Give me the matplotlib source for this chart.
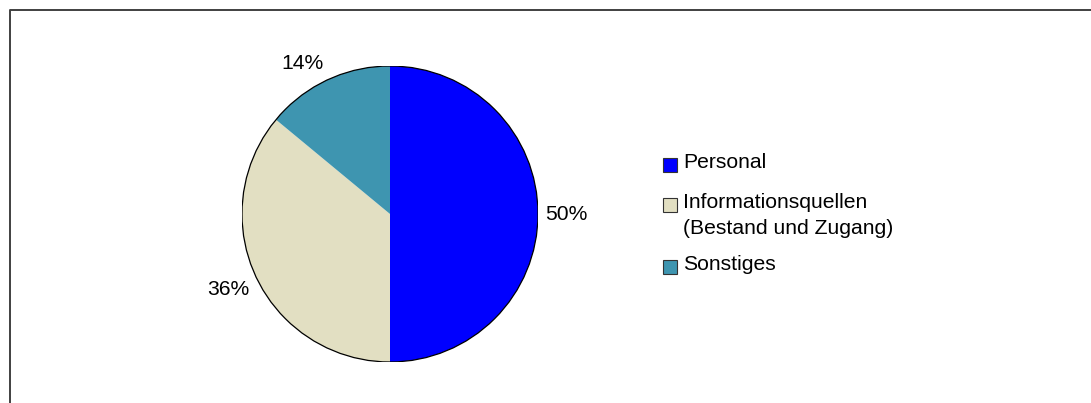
import math

import matplotlib

matplotlib.use("Agg")
import matplotlib.pyplot as plt
from matplotlib.lines import Line2D
from matplotlib.patches import Circle, Rectangle

categories = ["Personal", "Informationsquellen\n(Bestand und Zugang)", "Sonstiges"]
shares = [50, 36, 14]
pct_labels = ["50%", "36%", "14%"]

colors = ["#0000FF", "#E2DFC2", "#3E95B0"]

W, H = 1091, 403
plt.rcParams["font.family"] = ["Liberation Sans", "DejaVu Sans"]
FS = 15.2

fig = plt.figure(figsize=(W / 100, H / 100), dpi=100)


def px(x, y):
    """Pixel coords (origin top-left) -> figure fraction."""
    return x / W, 1 - y / H


# pie axes: centre (390, 214), radius 148 px
cx, cy, r = 390, 214, 148
ax = fig.add_axes([(cx - r) / W, (H - cy - r) / H, 2 * r / W, 2 * r / H])
wedges, _ = ax.pie(shares, colors=colors, startangle=90, counterclock=False,
                   radius=1, wedgeprops=dict(linewidth=0))
ax.add_patch(Circle((0, 0), 1, fill=False, edgecolor="black", linewidth=0.9))
ax.set_xlim(-1, 1)
ax.set_ylim(-1, 1)
ax.set_aspect("equal")
ax.axis("off")

# percentage labels: anchored by the corner nearest the pie
for w, txt in zip(wedges, pct_labels):
    mid = math.radians((w.theta1 + w.theta2) / 2)
    x, y = 1.05 * math.cos(mid), 1.05 * math.sin(mid)
    va = "bottom" if y > 0.3 else ("top" if y < -0.3 else "center")
    ax.text(x, y, txt, ha="left" if x > 0 else "right", va=va,
            fontsize=FS, color="black", clip_on=False)

# legend drawn by hand
leg_x, text_x, sq = 663, 683, 14
item_y = [163, 203, 265]
line_step = 26
for lab, col, y0 in zip(categories, colors, item_y):
    fx, fy = px(leg_x, y0 + 2 + sq / 2)
    fig.add_artist(Rectangle((fx, fy), sq / W, sq / H, facecolor=col,
                             edgecolor="#333333", linewidth=0.8,
                             transform=fig.transFigure))
    for k, line in enumerate(lab.split("\n")):
        tx, ty = px(text_x, y0 + k * line_step)
        fig.text(tx, ty, line, ha="left", va="center", fontsize=FS)

# frame (only top and left edges fall inside the canvas)
bx0, by0 = px(10, H + 5)
bx1, by1 = px(10, 10)
bx2, by2 = px(W + 5, 10)
fig.add_artist(Line2D([bx0, bx1, bx2], [by0, by1, by2], color="#404040",
                      linewidth=1.4, transform=fig.transFigure))

fig.savefig("out.png", dpi=100)
